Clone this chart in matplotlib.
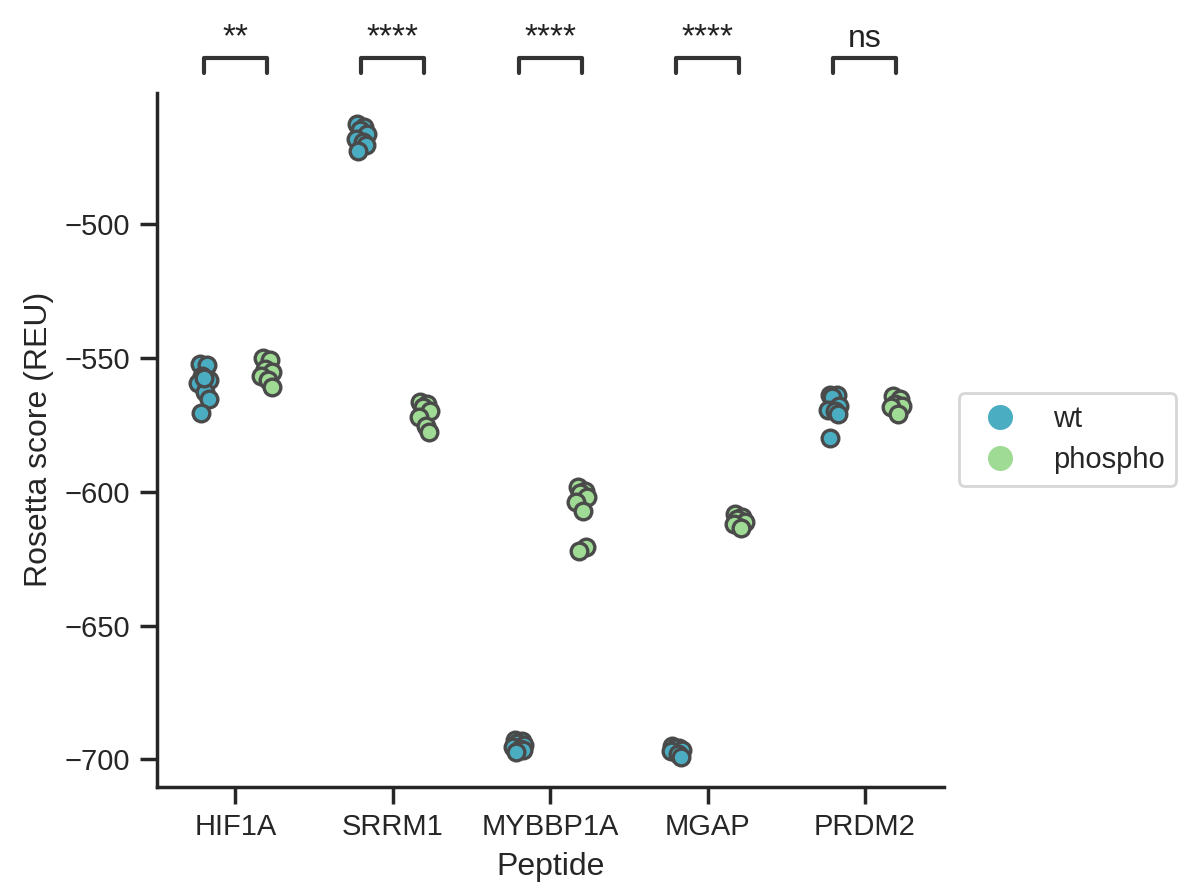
import numpy as np
import matplotlib
matplotlib.use("Agg")
import matplotlib.pyplot as plt
import seaborn as sns

# peptides et scores Rosetta
peptides = ["HIF1A", "SRRM1", "MYBBP1A", "MGAP", "PRDM2"]
states = ["wt", "phospho"]

wt_scores = [
    [-552.3, -552.7, -556.8, -558.0, -559.1, -562.8, -565.4, -570.3, -557.5],
    [-462.6, -463.5, -464.5, -466.0, -468.2, -469.0, -470.1, -472.7],
    [-692.8, -693.2, -693.8, -694.5, -695.5, -696.0, -696.6, -697.2],
    [-695.1, -695.6, -695.9, -696.3, -697.0, -697.8, -699.0],
    [-563.6, -563.9, -564.5, -568.0, -569.2, -569.9, -571.0, -580.0],
]
phospho_scores = [
    [-550.1, -550.5, -554.2, -555.3, -556.5, -558.0, -560.6],
    [-566.5, -567.0, -568.4, -569.9, -571.8, -575.5, -577.4],
    [-598.3, -599.8, -600.2, -602.0, -603.6, -607.3, -620.7, -622.2],
    [-608.4, -609.2, -610.0, -611.4, -611.8, -613.3],
    [-564.3, -565.4, -567.0, -568.0, -568.4, -571.0],
]
signif = ["**", "****", "****", "****", "ns"]

colors = {"wt": "#4aadc1", "phospho": "#9fdb95"}

sns.set_theme(style="ticks")
plt.rcParams["font.family"] = ["Liberation Sans", "DejaVu Sans"]

fig = plt.figure(figsize=(5.935, 4.41), dpi=200)
ax = fig.add_axes([0.132, 0.108, 0.663, 0.787])

# petit décalage horizontal fixe (jitter déterministe)
jit = [-0.025, 0.02, -0.01, 0.035, -0.035, 0.01, 0.03, -0.02, 0.0]
dodge = {"wt": -0.2, "phospho": 0.2}

for i, pep in enumerate(peptides):
    for st, scores in (("wt", wt_scores[i]), ("phospho", phospho_scores[i])):
        xs = [i + dodge[st] + jit[k % len(jit)] for k in range(len(scores))]
        ax.scatter(xs, scores, s=36, color=colors[st], edgecolor="#4a4a4a",
                   linewidth=1.2, zorder=3)

ax.set_xlim(-0.5, 4.5)
ax.set_ylim(-710.2, -450.7)
ax.set_xticks(range(len(peptides)))
ax.set_xticklabels(peptides, fontsize=10.5)
ax.set_yticks([-500, -550, -600, -650, -700])
ax.tick_params(axis="y", labelsize=10.5)
ax.set_xlabel("Peptide", fontsize=11.5)
ax.set_ylabel("Rosetta score (REU)", fontsize=11.5)
sns.despine(ax=ax)

# barres de significativité au-dessus des axes
y0, y1 = -443.2, -437.6
for i, s in enumerate(signif):
    xa, xb = i - 0.2, i + 0.2
    ax.plot([xa, xa, xb, xb], [y0, y1, y1, y0], color="#333333", lw=1.5,
            clip_on=False)
    ax.text(i, y1 + 1.5, s, ha="center", va="bottom",
            fontsize=11.5 if s == "ns" else 12, color="#222222")

handles = [plt.Line2D([], [], marker="o", ls="", color=colors[s], markersize=8)
           for s in states]
ax.legend(handles, states, loc="center left", bbox_to_anchor=(1.02, 0.5),
          borderaxespad=0, fontsize=10.5, frameon=True, handletextpad=0.8,
          borderpad=0.4, labelspacing=0.45)

fig.savefig("out.png", dpi=200)
